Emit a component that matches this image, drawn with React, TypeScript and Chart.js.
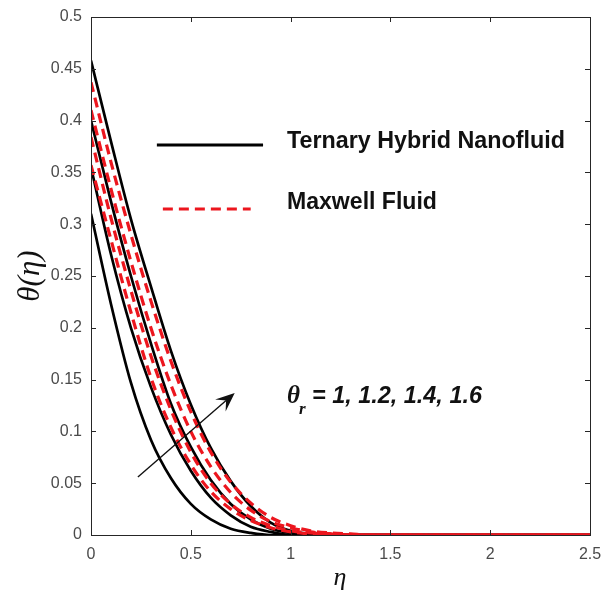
import React, { useEffect, useRef } from "react";
import { Chart, registerables } from "chart.js";

Chart.register(...registerables);

// eta grid (shared by all curves)
const eta = [0, 0.1, 0.2, 0.3, 0.4, 0.5, 0.6, 0.7, 0.8, 0.9, 1.0, 1.1, 1.2, 1.3, 1.4, 2.5];

// Ternary hybrid nanofluid (solid black), theta_r = 1, 1.2, 1.4, 1.6
const thnf1 = [0.31, 0.223, 0.147, 0.092, 0.055, 0.03, 0.015, 0.006, 0.002, 0, 0, 0, 0, 0, 0, 0];
const thnf2 = [0.355, 0.271, 0.2, 0.143, 0.097, 0.062, 0.036, 0.019, 0.008, 0.003, 0, 0, 0, 0, 0, 0];
const thnf3 = [0.4, 0.322, 0.25, 0.185, 0.127, 0.085, 0.053, 0.03, 0.015, 0.006, 0.002, 0, 0, 0, 0, 0];
const thnf4 = [0.458, 0.38, 0.305, 0.24, 0.178, 0.126, 0.084, 0.052, 0.028, 0.012, 0.004, 0.001, 0, 0, 0, 0];

// Maxwell fluid (dashed red)
const mx1 = [0.357, 0.285, 0.215, 0.152, 0.104, 0.068, 0.042, 0.025, 0.014, 0.007, 0.003, 0.001, 0, 0, 0, 0];
const mx2 = [0.384, 0.306, 0.236, 0.173, 0.121, 0.08, 0.05, 0.03, 0.017, 0.009, 0.004, 0.002, 0.001, 0, 0, 0];
const mx3 = [0.41, 0.334, 0.264, 0.2, 0.145, 0.1, 0.066, 0.041, 0.024, 0.013, 0.007, 0.003, 0.001, 0, 0, 0];
const mx4 = [0.437, 0.36, 0.29, 0.226, 0.168, 0.119, 0.08, 0.051, 0.031, 0.017, 0.009, 0.004, 0.002, 0.001, 0, 0];

const xTicks = [0, 0.5, 1, 1.5, 2, 2.5];
const yTicks = [0, 0.05, 0.1, 0.15, 0.2, 0.25, 0.3, 0.35, 0.4, 0.45, 0.5];

const legendLabels = ["Ternary Hybrid Nanofluid", "Maxwell Fluid"];
const annotationText = "= 1, 1.2, 1.4, 1.6";

const BLACK = "#000000";
const RED = "rgb(236,22,30)";

function toPts(ys: number[]) {
  return ys.map((y, i) => ({ x: eta[i], y }));
}

const overlay = {
  id: "overlay",
  afterDraw(chart: any) {
    const { ctx, chartArea, scales } = chart;
    const xs = scales.x;
    const ys = scales.y;
    const X = (v: number) => xs.getPixelForValue(v);
    const Y = (v: number) => ys.getPixelForValue(v);
    const { left, right, top, bottom } = chartArea;
    ctx.save();

    // box
    ctx.strokeStyle = "#262626";
    ctx.lineWidth = 1;
    ctx.strokeRect(Math.round(left) + 0.5, Math.round(top) + 0.5, Math.round(right - left), Math.round(bottom - top));
    // inward ticks
    const tl = 5;
    ctx.beginPath();
    xTicks.forEach((v) => {
      const px = Math.round(X(v)) + 0.5;
      ctx.moveTo(px, bottom);
      ctx.lineTo(px, bottom - tl);
      ctx.moveTo(px, top);
      ctx.lineTo(px, top + tl);
    });
    yTicks.forEach((v) => {
      const py = Math.round(Y(v)) + 0.5;
      ctx.moveTo(left, py);
      ctx.lineTo(left + tl, py);
      ctx.moveTo(right, py);
      ctx.lineTo(right - tl, py);
    });
    ctx.stroke();

    // axis titles
    ctx.fillStyle = "#111";
    ctx.font = "italic 26px 'Liberation Serif'";
    ctx.textAlign = "center";
    ctx.textBaseline = "middle";
    ctx.fillText("\u03b7", (left + right) / 2 - 0.5, 578);
    ctx.save();
    ctx.translate(31, (top + bottom) / 2);
    ctx.rotate(-Math.PI / 2);
    ctx.font = "italic 31px 'Liberation Serif'";
    ctx.fillText("\u03b8(\u03b7)", 0, 0);
    ctx.restore();

    // legend
    ctx.lineWidth = 3;
    ctx.strokeStyle = BLACK;
    ctx.beginPath();
    ctx.moveTo(X(0.33), Y(0.3765));
    ctx.lineTo(X(0.862), Y(0.3765));
    ctx.stroke();
    ctx.strokeStyle = RED;
    ctx.setLineDash([10, 6]);
    ctx.beginPath();
    ctx.moveTo(X(0.36), Y(0.3147));
    ctx.lineTo(X(0.8), Y(0.3147));
    ctx.stroke();
    ctx.setLineDash([]);

    ctx.fillStyle = "#111";
    ctx.textAlign = "left";
    ctx.textBaseline = "middle";
    const fitFont = (text: string, w: number, style: string) => {
      ctx.font = `${style} 20px 'Liberation Sans'`;
      const m = ctx.measureText(text).width;
      const s = (20 * w) / m;
      ctx.font = `${style} ${s.toFixed(2)}px 'Liberation Sans'`;
    };
    fitFont(legendLabels[0], 278, "bold");
    ctx.fillText(legendLabels[0], X(0.982), Y(0.38));
    fitFont(legendLabels[1], 150, "bold");
    ctx.fillText(legendLabels[1], X(0.982), Y(0.321));

    // annotation theta_r
    const ax = X(0.982);
    const ay = Y(0.134);
    ctx.font = "italic bold 25px 'Liberation Serif'";
    ctx.fillText("\u03b8", ax, ay);
    const tw = ctx.measureText("\u03b8").width;
    ctx.font = "italic bold 17px 'Liberation Serif'";
    ctx.fillText("r", ax + tw - 1, ay + 13);
    fitFont(annotationText, 170, "italic bold");
    ctx.fillText(annotationText, ax + 25, ay);

    // arrow
    const x0 = X(0.235), y0 = Y(0.056), x1 = X(0.72), y1 = Y(0.137);
    const ang = Math.atan2(y1 - y0, x1 - x0);
    const hl = 19, hw = 8;
    ctx.strokeStyle = "#111";
    ctx.lineWidth = 1.4;
    ctx.beginPath();
    ctx.moveTo(x0, y0);
    ctx.lineTo(x1 - hl * 0.6 * Math.cos(ang), y1 - hl * 0.6 * Math.sin(ang));
    ctx.stroke();
    ctx.fillStyle = "#111";
    ctx.beginPath();
    ctx.moveTo(x1, y1);
    ctx.lineTo(x1 - hl * Math.cos(ang) + hw * Math.sin(ang), y1 - hl * Math.sin(ang) - hw * Math.cos(ang));
    ctx.lineTo(x1 - hl * 0.6 * Math.cos(ang), y1 - hl * 0.6 * Math.sin(ang));
    ctx.lineTo(x1 - hl * Math.cos(ang) - hw * Math.sin(ang), y1 - hl * Math.sin(ang) + hw * Math.cos(ang));
    ctx.closePath();
    ctx.fill();

    ctx.restore();
  },
};

export default function App() {
  const ref = useRef<HTMLCanvasElement | null>(null);
  useEffect(() => {
    if (!ref.current) return;
    const red = (d: number[]) => ({
      data: toPts(d),
      borderColor: RED,
      borderWidth: 3.2,
      borderDash: [10, 6],
      pointRadius: 0,
      fill: false,
      cubicInterpolationMode: "monotone" as const,
    });
    const black = (d: number[]) => ({
      data: toPts(d),
      borderColor: BLACK,
      borderWidth: 2.7,
      pointRadius: 0,
      fill: false,
      cubicInterpolationMode: "monotone" as const,
    });
    const chart = new Chart(ref.current, {
      type: "line",
      data: {
        datasets: [red(mx1), red(mx2), red(mx3), red(mx4), black(thnf1), black(thnf2), black(thnf3), black(thnf4)],
      },
      options: {
        animation: false,
        responsive: false,
        layout: { padding: { top: 17, right: 15, left: 0, bottom: 0 }, autoPadding: false },
        plugins: { legend: { display: false }, tooltip: { enabled: false } },
        scales: {
          x: {
            type: "linear",
            min: 0,
            max: 2.5,
            afterBuildTicks: (s: any) => {
              s.ticks = xTicks.map((v) => ({ value: v }));
            },
            afterFit: (s: any) => {
              s.height = 70;
              s.paddingLeft = 0;
              s.paddingRight = 0;
            },
            grid: { display: false, drawTicks: false },
            border: { display: false },
            ticks: {
              padding: 10,
              color: "#4a4a4a",
              font: { family: "'Liberation Sans'", size: 16 },
              maxRotation: 0,
              callback: (v: any) => String(Math.round(Number(v) * 100) / 100),
            },
          },
          y: {
            type: "linear",
            min: 0,
            max: 0.5,
            afterBuildTicks: (s: any) => {
              s.ticks = yTicks.map((v) => ({ value: v }));
            },
            afterFit: (s: any) => {
              s.width = 91;
              s.paddingTop = 0;
              s.paddingBottom = 0;
            },
            grid: { display: false, drawTicks: false },
            border: { display: false },
            ticks: {
              padding: 9,
              color: "#4a4a4a",
              font: { family: "'Liberation Sans'", size: 16 },
              callback: (v: any) => String(Math.round(Number(v) * 100) / 100),
            },
          },
        },
      },
      plugins: [overlay],
    });
    return () => chart.destroy();
  }, []);
  return (
    <div style={{ position: "fixed", left: 0, top: 0, width: 605, height: 605, background: "#fff" }}>
      <canvas ref={ref} width={605} height={605} style={{ width: 605, height: 605 }} />
    </div>
  );
}
